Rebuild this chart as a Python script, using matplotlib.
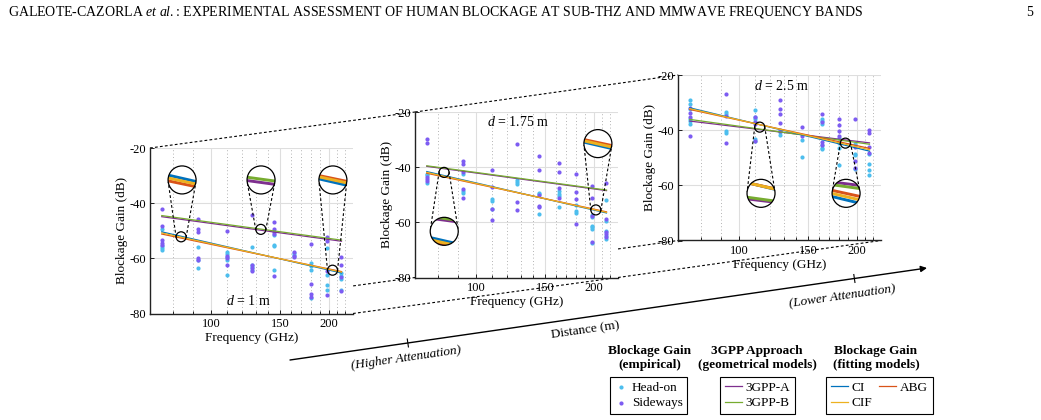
import numpy as np
import matplotlib
matplotlib.use('Agg')
import matplotlib.pyplot as plt
from matplotlib.patches import Circle
from matplotlib.ticker import NullFormatter

plt.rcParams['font.family'] = ['Liberation Serif', 'DejaVu Serif']
plt.rcParams['mathtext.fontset'] = 'custom'
plt.rcParams['mathtext.rm'] = 'Liberation Serif'
plt.rcParams['mathtext.it'] = 'Liberation Serif:italic'
plt.rcParams['axes.unicode_minus'] = False

W, H = 1041, 420

# measurement frequencies (GHz)
freq = [75, 92.5, 110, 127.5, 145, 162.5, 180, 197.5, 215]

# empirical blockage gain (dB), one list per frequency
headon_1m = [[-49.5, -55.5, -56.3, -57.0], [-56.0, -60.5, -63.5], [-57.6, -58.6, -59.5, -60.5, -66.2],
             [-55.8, -62.3, -63.2, -64.1], [-51.6, -55.0, -55.6, -64.1], [-58.0, -58.9],
             [-61.7, -62.9, -64.3, -74.3], [-56.3, -66.0, -69.5, -71.3], [-65.3, -66.3, -67.4, -71.5]]
sideways_1m = [[-42.0, -48.4, -53.5, -54.5, -55.1], [-45.8, -49.4, -50.5, -60.0, -60.5], [-50.1, -59.0, -60.0, -62.5],
               [-44.2, -62.5, -63.5, -64.5], [-46.8, -49.5, -50.5, -51.1, -66.5], [-57.7, -59.0, -59.6],
               [-54.7, -69.3, -73.1, -74.1], [-52.3, -53.8, -64.7, -73.2], [-59.5, -62.3, -66.8, -71.7]]

headon_175m = [[-42.4, -43.0, -45.6], [-42.3, -48.7, -49.3], [-51.5, -52.4, -55.2],
               [-44.5, -45.3, -46.1], [-49.3, -49.9, -57.1], [-48.6, -49.6, -50.6, -54.6],
               [-53.7, -56.0, -56.6], [-57.2, -58.0, -61.2, -61.8, -62.5, -67.5], [-51.8, -59.6, -63.2, -64.8, -66.0]]
sideways_175m = [[-29.7, -31.2, -43.5, -44.4, -45.1], [-37.8, -38.7, -41.8, -47.8, -51.3], [-41.1, -47.3, -55.0, -59.1],
                 [-31.5, -52.6, -55.6], [-36.1, -41.0, -50.1, -54.0, -54.6], [-38.4, -41.6, -47.6, -51.1],
                 [-42.3, -49.0, -51.6, -60.7], [-46.8, -51.2, -57.6, -67.1], [-45.8, -58.8, -63.5, -64.2, -65.3]]

headon_25m = [[-29.1, -30.5, -32.4, -36.0, -36.7, -37.9], [-33.3, -34.2, -40.4, -41.2],
              [-32.7, -35.4, -36.0, -36.9, -43.3, -43.9], [-39.8, -40.6, -41.8], [-43.4, -49.7],
              [-35.8, -36.6, -37.6, -45.5, -46.4, -47.0], [-42.8, -44.6, -46.3, -52.5],
              [-44.9, -48.5, -49.0, -53.9], [-48.8, -52.1, -54.3, -56.4]]
sideways_25m = [[-32.1, -33.6, -35.2, -42.2], [-27.0, -34.9, -44.5], [-35.2, -37.0, -37.7, -44.0],
                [-28.9, -32.4, -34.0, -37.3, -40.2], [-38.8, -42.2], [-34.2, -37.2, -44.2, -45.2],
                [-36.1, -38.2, -40.2, -42.2], [-35.8, -46.1, -51.3, -53.6], [-39.8, -41.0, -46.1, -48.1]]

# model lines, value at first and last frequency
fit_freq = [75, 215]
gpp_a = [[-44.9, -53.8], [-39.7, -48.5], [-36.7, -44.6]]
gpp_b = [[-44.5, -53.4], [-39.5, -48.3], [-36.1, -45.1]]
ci = [[-50.4, -65.3], [-41.6, -56.6], [-31.9, -47.6]]
cif = [[-50.8, -65.0], [-41.9, -56.4], [-32.2, -47.1]]
abg = [[-51.2, -64.8], [-42.2, -56.2], [-32.5, -46.6]]

distances = ['1', '1.75', '2.5']
headon_all = [headon_1m, headon_175m, headon_25m]
sideways_all = [sideways_1m, sideways_175m, sideways_25m]

# zoom circles: (freq, gain) of the small circle, axes position of the big one
zooms = [
    [(84, -52.2, 0.158, 0.807), (134, -49.5, 0.547, 0.807), (204, -64.3, 0.901, 0.807)],
    [(83, -41.9, 0.144, 0.279), (202, -55.5, 0.901, 0.809)],
    [(113, -38.9, 0.409, 0.285), (186.7, -44.7, 0.828, 0.285)],
]
label_pos = [(0.483, 0.078), (0.507, 0.939), (0.512, 0.933)]
panel_px = [(150, 148), (415, 112), (678, 75)]  # left, top in pixels
PW, PH = 203, 165.5

C_HEAD = '#4dbeee'
C_SIDE = '#7d5cf2'
C_A = '#7e2f8e'
C_B = '#77ac30'
C_CI = '#0072bd'
C_CIF = '#edb120'
C_ABG = '#d95319'

fig = plt.figure(figsize=(W / 100, H / 100), dpi=100)

bg = fig.add_axes([0, 0, 1, 1], zorder=0)
bg.set_xlim(0, W)
bg.set_ylim(H, 0)
bg.axis('off')

fg = fig.add_axes([0, 0, 1, 1], zorder=10)
fg.set_xlim(0, W)
fg.set_ylim(0, H)
fg.axis('off')

axes = []
handles = {}
for i in range(3):
    left, top = panel_px[i]
    ax = fig.add_axes([left / W, 1 - (top + PH) / H, PW / W, PH / H], zorder=2)
    ax.set_facecolor('white')
    for f, vals in zip(freq, headon_all[i]):
        h1 = ax.scatter([f] * len(vals), vals, s=9, color=C_HEAD, lw=0, zorder=3)
    for f, vals in zip(freq, sideways_all[i]):
        h2 = ax.scatter([f] * len(vals), vals, s=9, color=C_SIDE, lw=0, zorder=3)
    la, = ax.plot(fit_freq, gpp_a[i], color=C_A, lw=0.9, zorder=4)
    lb, = ax.plot(fit_freq, gpp_b[i], color=C_B, lw=0.9, zorder=4)
    lci, = ax.plot(fit_freq, ci[i], color=C_CI, lw=0.9, zorder=4)
    labg, = ax.plot(fit_freq, abg[i], color=C_ABG, lw=0.9, zorder=4)
    lcif, = ax.plot(fit_freq, cif[i], color=C_CIF, lw=0.9, zorder=4)
    handles = dict(head=h1, side=h2, a=la, b=lb, ci=lci, cif=lcif, abg=labg)

    ax.set_xscale('log')
    ax.set_xlim(70, 230)
    ax.set_ylim(-80, -20)
    ax.set_xticks([100, 150, 200])
    ax.set_xticklabels(['100', '150', '200'])
    ax.set_xticks([80, 90, 110, 120, 130, 140, 160, 170, 180, 190, 210, 220], minor=True)
    ax.xaxis.set_minor_formatter(NullFormatter())
    ax.set_yticks([-80, -60, -40, -20])
    ax.grid(True, which='major', color='#dedede', lw=0.8, ls='-')
    ax.grid(True, which='minor', axis='x', color='#9a9a9a', lw=0.6, ls=(0, (1, 3)))
    ax.set_axisbelow(True)
    ax.tick_params(direction='in', which='both', top=False, right=False, labelsize=9,
                   length=3, width=0.6, pad=3)
    ax.tick_params(which='minor', length=2)
    for s in ['top', 'right']:
        ax.spines[s].set_visible(False)
    for s in ['left', 'bottom']:
        ax.spines[s].set_linewidth(1.0)
        ax.spines[s].set_color('#222222')
    ax.set_ylabel('Blockage Gain (dB)', fontsize=9.5, labelpad=1)
    ax.set_xlabel('Frequency (GHz)', fontsize=9.5, labelpad=2)
    ax.text(label_pos[i][0], label_pos[i][1], '$d$ = ' + distances[i] + ' m', transform=ax.transAxes,
            ha='center', va='center', fontsize=10, zorder=6)
    axes.append(ax)

# perspective lines between the panels
corners = []
for ax in axes:
    p = ax.get_position()
    corners.append(((p.x0 * W, (1 - p.y1) * H), (p.x0 * W, (1 - p.y0) * H), (p.x1 * W, (1 - p.y0) * H)))
for k in range(3):
    for i in range(2):
        (x0, y0), (x1, y1) = corners[i][k], corners[i + 1][k]
        bg.plot([x0, x1], [y0, y1], color='k', lw=0.8, ls=(0, (2.5, 2)))

# magnifier circles
M, R, r = 3.0, 14, 5
for i, ax in enumerate(axes):
    models = [(gpp_a[i], C_A), (gpp_b[i], C_B), (ci[i], C_CI), (abg[i], C_ABG), (cif[i], C_CIF)]
    for f0, g0, bx, by in zooms[i]:
        xs, ys = ax.transData.transform((f0, g0))
        xb, yb = ax.transAxes.transform((bx, by))
        c1, c2 = np.array([xs, ys]), np.array([xb, yb])
        d = np.linalg.norm(c2 - c1)
        u = (c2 - c1) / d
        v = np.array([-u[1], u[0]])
        c = (r - R) / d
        for sgn in (1, -1):
            n = c * u + sgn * np.sqrt(1 - c * c) * v
            p1, p2 = c1 + r * n, c2 + R * n
            fg.plot([p1[0], p2[0]], [p1[1], p2[1]], color='k', lw=0.8, ls=(0, (2.5, 2)), zorder=5)
        fg.add_patch(Circle((xs, ys), r, fill=False, ec='k', lw=0.9, zorder=6))
        disk = Circle((xb, yb), R, fc='white', ec='none', zorder=6)
        fg.add_patch(disk)
        for vals, col in models:
            q0 = ax.transData.transform((fit_freq[0], vals[0]))
            q1 = ax.transData.transform((fit_freq[1], vals[1]))
            slope = (q1[1] - q0[1]) / (q1[0] - q0[0])
            off = q0[1] + slope * (xs - q0[0]) - ys
            xx = np.array([xb - R - 2, xb + R + 2])
            yy = yb + M * off + slope * (xx - xb)
            ln, = fg.plot(xx, yy, color=col, lw=2.1, zorder=7, solid_capstyle='butt')
            ln.set_clip_path(disk)
        fg.add_patch(Circle((xb, yb), R, fill=False, ec='k', lw=0.9, zorder=8))

# distance arrow
start, end = (290, 360), (927, 268)
bg.annotate('', xy=end, xytext=start,
            arrowprops=dict(arrowstyle='-|>', lw=1.0, color='k', mutation_scale=9, shrinkA=0, shrinkB=0))
dvec = np.array(end) - np.array(start)
dvec = dvec / np.linalg.norm(dvec)
nvec = np.array([-dvec[1], dvec[0]])
for t in (0.185, 0.886):
    p = np.array(start) + t * (np.array(end) - np.array(start))
    bg.plot([p[0] - 4 * nvec[0], p[0] + 4 * nvec[0]], [p[1] - 4 * nvec[1], p[1] + 4 * nvec[1]], color='k', lw=0.8)
ang = np.degrees(np.arctan2(-(end[1] - start[1]), end[0] - start[0]))
bg.text(406, 358, '(Higher Attenuation)', rotation=ang, rotation_mode='anchor', ha='center', va='center',
        fontsize=9.5, style='italic')
bg.text(842, 297, '(Lower Attenuation)', rotation=ang, rotation_mode='anchor', ha='center', va='center',
        fontsize=9.5, style='italic')
bg.text(585, 330, 'Distance (m)', rotation=ang, rotation_mode='anchor', ha='center', va='center', fontsize=9.5)

# legends
leg_kw = dict(loc='upper left', frameon=True, fancybox=False, edgecolor='k', framealpha=1, fontsize=9.5,
              borderpad=0.35, labelspacing=0.25, handletextpad=0.3, borderaxespad=0)
h = handles
l1 = fig.legend([h['head'], h['side']], ['Head-on', 'Sideways'], bbox_to_anchor=(610 / W, 1 - 377 / H),
                scatterpoints=1, handlelength=1.0, **leg_kw)
l2 = fig.legend([h['a'], h['b']], ['3GPP-A', '3GPP-B'], bbox_to_anchor=(720 / W, 1 - 377 / H),
                handlelength=1.3, **leg_kw)
l3 = fig.legend([h['ci'], h['cif'], h['abg']], ['CI', 'CIF', 'ABG'], bbox_to_anchor=(826 / W, 1 - 377 / H),
                handlelength=1.3, ncol=2, columnspacing=0.5, **leg_kw)
for lg in (l1, l2, l3):
    lg.get_frame().set_linewidth(0.8)

fig.text(650 / W, 1 - 358 / H, 'Blockage Gain\n(empirical)', ha='center', va='center', fontsize=9.5,
         fontweight='bold', linespacing=1.3)
fig.text(757 / W, 1 - 358 / H, '3GPP Approach\n(geometrical models)', ha='center', va='center', fontsize=9.5,
         fontweight='bold', linespacing=1.3)
fig.text(876 / W, 1 - 358 / H, 'Blockage Gain\n(fitting models)', ha='center', va='center', fontsize=9.5,
         fontweight='bold', linespacing=1.3)

# page header
fig.text(8 / W, 1 - 12 / H, 'GALEOTE-CAZORLA $et$ $al.$: EXPERIMENTAL ASSESSMENT OF HUMAN BLOCKAGE AT '
         'SUB-THZ AND MMWAVE FREQUENCY BANDS', ha='left', va='center', fontsize=10)
fig.text(1033 / W, 1 - 12 / H, '5', ha='right', va='center', fontsize=10)

fig.savefig('out.png', dpi=100)
